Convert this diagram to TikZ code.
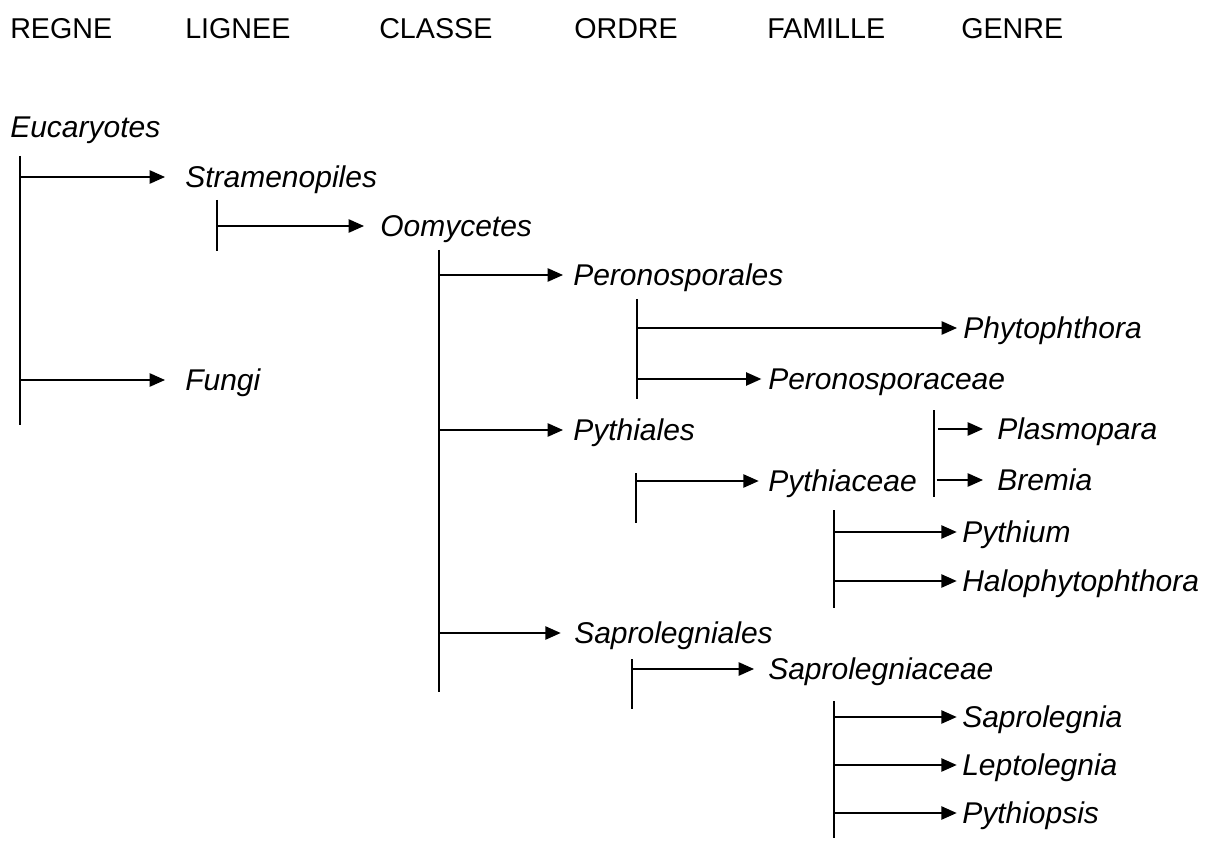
\documentclass[tikz,border=0pt]{standalone}
\usepackage{fontspec}
\setmainfont{Liberation Sans}
\usetikzlibrary{arrows.meta,positioning}

\tikzset{
  taxon/.style={anchor=west, inner sep=0pt, text height=16pt, text depth=0pt,
    font=\fontsize{22.5}{27}\selectfont\itshape},
  rank/.style={anchor=west, inner sep=0pt, text height=15.5pt, text depth=0pt,
    font=\fontsize{21.5}{26}\selectfont},
  bar/.style={line width=1.1pt},
  branch/.style={line width=1.1pt, -{Triangle[length=11.5pt,width=10pt]}}
}

\begin{document}
\begin{tikzpicture}[x=0.75pt,y=-0.75pt]
    \useasboundingbox (0,0) rectangle (1209,841);

    % rank headers
    \foreach \nm/\txt/\xpos in {regne/REGNE/10, lignee/LIGNEE/185, classe/CLASSE/379,
        ordre/ORDRE/574, famille/FAMILLE/767, genre/GENRE/961}
        \node[rank] (\nm) at (\xpos,28) {\txt};

    % taxa
    \node[taxon] (euk) at (10,127) {Eucaryotes};
    \node[taxon] (stram) at (185,177) {Stramenopiles};
    \node[taxon] (fungi) at (185,380) {Fungi};
    \node[taxon] (oomy) at (380,226) {Oomycetes};
    \node[taxon] (perono) at (573,275) {Peronosporales};
    \node[taxon] (pythiales) at (573,430) {Pythiales};
    \node[taxon] (saprol) at (574,633) {Saprolegniales};
    \node[taxon] (phyto) at (963,328) {Phytophthora};
    \node[taxon] (peronac) at (768,379) {Peronosporaceae};
    \node[taxon] (pythiac) at (768,481) {Pythiaceae};
    \node[taxon] (plasmo) at (997,429) {Plasmopara};
    \node[taxon] (bremia) at (997,480) {Bremia};
    \node[taxon] (pythium) at (962,532) {Pythium};
    \node[taxon] (halo) at (962,581) {Halophytophthora};
    \node[taxon] (saprolac) at (768,669) {Saprolegniaceae};
    \node[taxon] (saprolegnia) at (962,717) {Saprolegnia};
    \node[taxon] (lepto) at (962,765) {Leptolegnia};
    \node[taxon] (pythiopsis) at (962,813) {Pythiopsis};

    % vertical bars
    \coordinate (regneT) at (20,156);  \coordinate (regneB) at (20,425);
    \coordinate (ligneeT) at (217,200); \coordinate (ligneeB) at (217,251);
    \coordinate (classeT) at (439,250); \coordinate (classeB) at (439,692);
    \coordinate (peronoT) at (637,299); \coordinate (peronoB) at (637,399);
    \coordinate (pythT) at (636,473);   \coordinate (pythB) at (636,523);
    \coordinate (genreAT) at (934,410); \coordinate (genreAB) at (934,497);
    \coordinate (genreBT) at (834,510); \coordinate (genreBB) at (834,608);
    \coordinate (saprT) at (632,659);   \coordinate (saprB) at (632,709);
    \coordinate (genreCT) at (834,701); \coordinate (genreCB) at (834,838);
    \foreach \a/\b in {regneT/regneB, ligneeT/ligneeB, classeT/classeB, peronoT/peronoB,
        pythT/pythB, genreAT/genreAB, genreBT/genreBB, saprT/saprB, genreCT/genreCB}
        \draw[bar] (\a) -- (\b);

    % branches
    \draw[branch, shorten >=15pt] (regneT |- stram) -- (stram.west);
    \draw[branch, shorten >=15pt] (regneT |- fungi) -- (fungi.west);
    \draw[branch, shorten >=12pt] (ligneeT |- oomy) -- (oomy.west);
    \draw[branch, shorten >=7.5pt] (classeT |- perono) -- (perono.west);
    \draw[branch, shorten >=7.5pt] (classeT |- pythiales) -- (pythiales.west);
    \draw[branch, shorten >=10pt] (classeT |- saprol) -- (saprol.west);
    \draw[branch, shorten >=4.5pt] (peronoT |- phyto) -- (phyto.west);
    \draw[branch, shorten >=5pt] (peronoT |- peronac) -- (peronac.west);
    \draw[branch, shorten >=7pt] (pythT |- pythiac) -- (pythiac.west);
    \draw[branch, shorten <=3pt, shorten >=10.5pt] (genreAT |- plasmo) -- (plasmo.west);
    \draw[branch, shorten <=2pt, shorten >=10.5pt] (genreAT |- bremia) -- (bremia.west);
    \draw[branch, shorten >=4pt] (genreBT |- pythium) -- (pythium.west);
    \draw[branch, shorten >=4pt] (genreBT |- halo) -- (halo.west);
    \draw[branch, shorten >=10.5pt] (saprT |- saprolac) -- (saprolac.west);
    \draw[branch, shorten >=4pt] (genreCT |- saprolegnia) -- (saprolegnia.west);
    \draw[branch, shorten >=4pt] (genreCT |- lepto) -- (lepto.west);
    \draw[branch, shorten >=4pt] (genreCT |- pythiopsis) -- (pythiopsis.west);
\end{tikzpicture}
\end{document}
